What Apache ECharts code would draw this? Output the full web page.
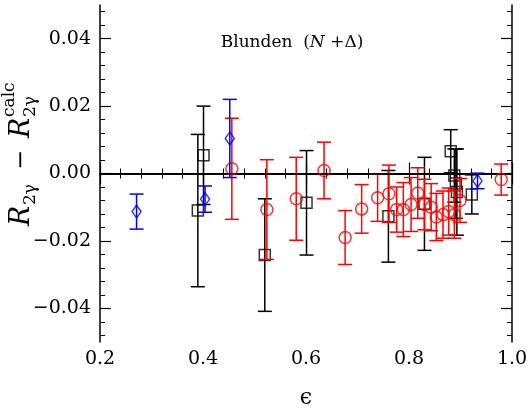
<!DOCTYPE html>
<html>
<head>
<meta charset="utf-8">
<script src="https://cdn.jsdelivr.net/npm/echarts@6/dist/echarts.min.js"></script>
<style>
html, body { margin: 0; padding: 0; background: #fff; }
#main { width: 531px; height: 415px; }
</style>
</head>
<body>
<div id="main"></div>
<script>
// epsilon, R_2g - R_2g^calc, error  (one list per data set)
var blackEps  = [0.390, 0.401, 0.520, 0.601, 0.760, 0.830, 0.881, 0.888, 0.891, 0.893, 0.922];
var blackDiff = [-0.0110, 0.0054, -0.0242, -0.0087, -0.0127, -0.0090, 0.0066, -0.0006, -0.0030, -0.0055, -0.0062];
var blackErr  = [0.0226, 0.0146, 0.0167, 0.0155, 0.0136, 0.0138, 0.0064, 0.0079, 0.0103, 0.0128, 0.0058];

var redEps  = [0.456, 0.524, 0.581, 0.635, 0.676, 0.708, 0.739, 0.761, 0.776, 0.789, 0.804, 0.817, 0.830, 0.843, 0.853, 0.866, 0.877, 0.888, 0.899, 0.979];
var redDiff = [0.0014, -0.0107, -0.0075, 0.0009, -0.0190, -0.0105, -0.0072, -0.0060, -0.0107, -0.0107, -0.0092, -0.0058, -0.0092, -0.0100, -0.0129, -0.0122, -0.0113, -0.0122, -0.0080, -0.0018];
var redErr  = [0.0150, 0.0148, 0.0123, 0.0084, 0.0080, 0.0072, 0.0070, 0.0085, 0.0067, 0.0080, 0.0080, 0.0075, 0.0075, 0.0070, 0.0070, 0.0070, 0.0070, 0.0070, 0.0065, 0.0046];

var blueEps  = [0.271, 0.404, 0.452, 0.933];
var blueDiff = [-0.0113, -0.0076, 0.0104, -0.0022];
var blueErr  = [0.0052, 0.0039, 0.0116, 0.0023];

var yMajorTicks = [-0.04, -0.02, 0, 0.02, 0.04];
var yMinorTicks = [-0.048, -0.044, -0.040, -0.036, -0.032, -0.028, -0.024, -0.020, -0.016, -0.012, -0.008, -0.004, 0,
                   0.004, 0.008, 0.012, 0.016, 0.020, 0.024, 0.028, 0.032, 0.036, 0.040, 0.044, 0.048];

var FONT = '"DejaVu Serif", "Liberation Serif", serif';

function points(xs, ys) {
    return xs.map(function (x, i) { return [x, ys[i]]; });
}
function bars(xs, ys, es) {
    return xs.map(function (x, i) { return [x, ys[i] - es[i], ys[i] + es[i]]; });
}
function errorBar(color) {
    return function (params, api) {
        var x = api.value(0);
        var lo = api.coord([x, api.value(1)]);
        var hi = api.coord([x, api.value(2)]);
        var hw = 7;
        var st = { stroke: color, lineWidth: 1.5 };
        return {
            type: 'group',
            children: [
                { type: 'line', shape: { x1: hi[0], y1: hi[1], x2: lo[0], y2: lo[1] }, style: st },
                { type: 'line', shape: { x1: hi[0] - hw, y1: hi[1], x2: hi[0] + hw, y2: hi[1] }, style: st },
                { type: 'line', shape: { x1: lo[0] - hw, y1: lo[1], x2: lo[0] + hw, y2: lo[1] }, style: st }
            ]
        };
    };
}

var black = '#000000', red = '#ff0000', blue = '#0000ff';
var axisLineStyle = { color: '#000', width: 1.5 };

function xAxisCfg(pos, labels) {
    return {
        type: 'value', position: pos, min: 0.2, max: 1.0, interval: 0.2,
        axisLine: { show: true, lineStyle: axisLineStyle },
        axisTick: { show: true, inside: true, length: 11, lineStyle: { color: '#000', width: 1.2 } },
        minorTick: { show: true, splitNumber: 5, length: 5, lineStyle: { color: '#000', width: 1 } },
        splitLine: { show: false },
        axisLabel: {
            show: labels, color: '#000', fontFamily: FONT, fontSize: 19, margin: 8,
            formatter: function (v) { return v.toFixed(1); }
        }
    };
}
function yAxisCfg(pos, ticks, len, labels, line) {
    return {
        type: 'value', position: pos, min: -0.05, max: 0.05, offset: 0,
        axisLine: { show: line, lineStyle: axisLineStyle },
        axisTick: { show: true, inside: true, length: len, customValues: ticks, lineStyle: { color: '#000', width: len > 6 ? 1.2 : 1 } },
        splitLine: { show: false },
        axisLabel: {
            show: labels, customValues: yMajorTicks, color: '#000', fontFamily: FONT, fontSize: 19, margin: 9,
            formatter: function (v) { return v.toFixed(2).replace('-', '\u2212'); }
        }
    };
}

var chart = echarts.init(document.getElementById('main'));
var xb = xAxisCfg('bottom', true);
xb.name = '\u03f5';
xb.nameLocation = 'middle';
xb.nameGap = 45;
xb.nameTextStyle = { color: '#000', fontFamily: FONT, fontSize: 22 };

chart.setOption({
    animation: false,
    backgroundColor: '#fff',
    grid: { left: 100, right: 19, top: 5, bottom: 73 },
    xAxis: [xb, xAxisCfg('top', false)],
    yAxis: [
        yAxisCfg('left', yMajorTicks, 11, true, true),
        yAxisCfg('left', yMinorTicks, 5, false, false),
        yAxisCfg('right', yMajorTicks, 11, false, true),
        yAxisCfg('right', yMinorTicks, 5, false, false)
    ],
    graphic: [
        {
            type: 'text', x: 292, y: 43,
            style: {
                text: '{a|Blunden  (}{b|N}{a| +\u0394)}',
                align: 'center', verticalAlign: 'middle',
                rich: {
                    a: { fontFamily: FONT, fontSize: 17, fill: '#000' },
                    b: { fontFamily: FONT, fontSize: 17, fontStyle: 'italic', fill: '#000' }
                }
            }
        },
        {
            type: 'group', x: 22, y: 226, rotation: Math.PI / 2,
            children: [
                { type: 'text', x: 0, y: 0, style: { text: 'R', font: 'italic 27px ' + FONT, fill: '#000', verticalAlign: 'middle' } },
                { type: 'text', x: 21, y: 9, style: { text: '2\u03b3', font: '17px ' + FONT, fill: '#000', verticalAlign: 'middle' } },
                { type: 'text', x: 56, y: 0, style: { text: '\u2212', font: '24px ' + FONT, fill: '#000', verticalAlign: 'middle' } },
                { type: 'text', x: 88, y: 0, style: { text: 'R', font: 'italic 27px ' + FONT, fill: '#000', verticalAlign: 'middle' } },
                { type: 'text', x: 109, y: 9, style: { text: '2\u03b3', font: '17px ' + FONT, fill: '#000', verticalAlign: 'middle' } },
                { type: 'text', x: 109, y: -12, style: { text: 'calc', font: '17px ' + FONT, fill: '#000', verticalAlign: 'middle' } }
            ]
        }
    ],
    series: [
        {
            type: 'custom', name: 'black err', renderItem: errorBar(black),
            data: bars(blackEps, blackDiff, blackErr), encode: { x: 0, y: [1, 2] }, z: 2
        },
        {
            type: 'scatter', name: 'black', data: points(blackEps, blackDiff),
            symbol: 'rect', symbolSize: 11,
            itemStyle: { color: 'rgba(0,0,0,0)', borderColor: black, borderWidth: 1.5 }, z: 3,
            markLine: {
                silent: true, symbol: ['none', 'none'], label: { show: false },
                lineStyle: { color: '#000', width: 1.5, type: 'solid' },
                data: [{ yAxis: 0 }]
            }
        },
        {
            type: 'custom', name: 'red err', renderItem: errorBar(red),
            data: bars(redEps, redDiff, redErr), encode: { x: 0, y: [1, 2] }, z: 4
        },
        {
            type: 'scatter', name: 'red', data: points(redEps, redDiff),
            symbol: 'circle', symbolSize: 12,
            itemStyle: { color: 'rgba(0,0,0,0)', borderColor: red, borderWidth: 1.5 }, z: 5
        },
        {
            type: 'custom', name: 'blue err', renderItem: errorBar(blue),
            data: bars(blueEps, blueDiff, blueErr), encode: { x: 0, y: [1, 2] }, z: 6
        },
        {
            type: 'scatter', name: 'blue', data: points(blueEps, blueDiff),
            symbol: 'diamond', symbolSize: [9, 13],
            itemStyle: { color: 'rgba(0,0,0,0)', borderColor: blue, borderWidth: 1.5 }, z: 7
        }
    ]
});
</script>
</body>
</html>
